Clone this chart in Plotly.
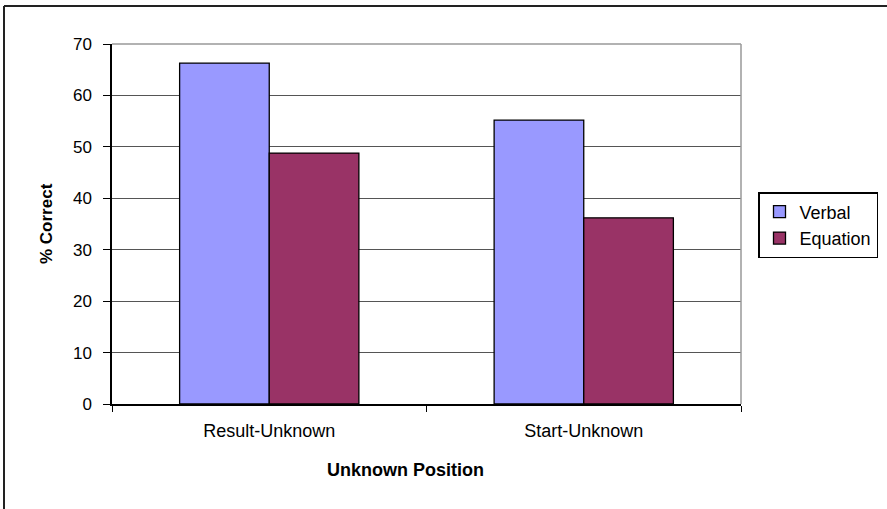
import plotly.graph_objects as go

# Percent correct by position of the unknown, per problem format
categories = ["Result-Unknown", "Start-Unknown"]
verbal = [66.3, 55.2]
equation = [48.8, 36.2]
y_ticks = [0, 10, 20, 30, 40, 50, 60, 70]

W, H = 887, 509
L, R, T, B = 112, 146, 44, 105
pw, ph = W - L - R, H - T - B


def px_x(x):
    return (x - L) / pw


def px_y(y):
    return (H - B - y) / ph


FONT = "Liberation Sans, Arial, sans-serif"

fig = go.Figure()
fig.add_trace(go.Bar(name="Verbal", x=categories, y=verbal,
                     marker=dict(color="#9999FF", line=dict(color="#000000", width=1.3))))
fig.add_trace(go.Bar(name="Equation", x=categories, y=equation,
                     marker=dict(color="#993366", line=dict(color="#000000", width=1.3))))

fig.update_layout(
    width=W, height=H,
    margin=dict(l=L, r=R, t=T, b=B, autoexpand=False),
    paper_bgcolor="white", plot_bgcolor="white",
    font=dict(family=FONT, size=16, color="#000000"),
    barmode="group", bargap=0.43, bargroupgap=0,
    showlegend=True,
    legend=dict(x=px_x(758), y=px_y(192), xanchor="left", yanchor="top",
                bordercolor="#000000", borderwidth=1.5, bgcolor="white",
                font=dict(size=18), tracegroupgap=0, itemwidth=30),
    xaxis=dict(
        showline=True, linecolor="#000000", linewidth=1.5,
        ticks="outside", tickson="boundaries", ticklen=6, tickcolor="#000000",
        tickfont=dict(size=18), ticklabelstandoff=10, showgrid=False,
    ),
    yaxis=dict(
        range=[0, 70], tickvals=y_ticks, showline=True, linecolor="#000000",
        linewidth=1.5, ticks="outside", ticklen=7, tickcolor="#000000",
        showgrid=True, gridcolor="#555555", gridwidth=1,
        tickfont=dict(size=17), ticklabelstandoff=8,
        zeroline=False,
    ),
    annotations=[
        dict(text="<b>Unknown Position</b>", xref="paper", yref="paper",
             x=px_x(405), y=px_y(470), xanchor="center", yanchor="middle",
             showarrow=False, font=dict(size=18)),
        dict(text="<b>% Correct</b>", xref="paper", yref="paper",
             x=px_x(46), y=px_y(224), xanchor="center", yanchor="middle",
             textangle=-90, showarrow=False, font=dict(size=17)),
    ],
    shapes=[
        # right edge and top of the plotting area
        dict(type="line", xref="paper", yref="paper", x0=1, x1=1, y0=0, y1=1,
             line=dict(color="#999999", width=1.5)),
        dict(type="line", xref="paper", yref="paper", x0=0, x1=1, y0=1, y1=1,
             line=dict(color="#999999", width=1.5)),
        # chart frame (top and left)
        dict(type="line", xref="paper", yref="paper", x0=px_x(4), x1=px_x(W + 5),
             y0=px_y(6), y1=px_y(6), line=dict(color="#222222", width=2)),
        dict(type="line", xref="paper", yref="paper", x0=px_x(4), x1=px_x(4),
             y0=px_y(6), y1=px_y(H + 5), line=dict(color="#222222", width=2)),
    ],
)

fig.write_html("out.html")
